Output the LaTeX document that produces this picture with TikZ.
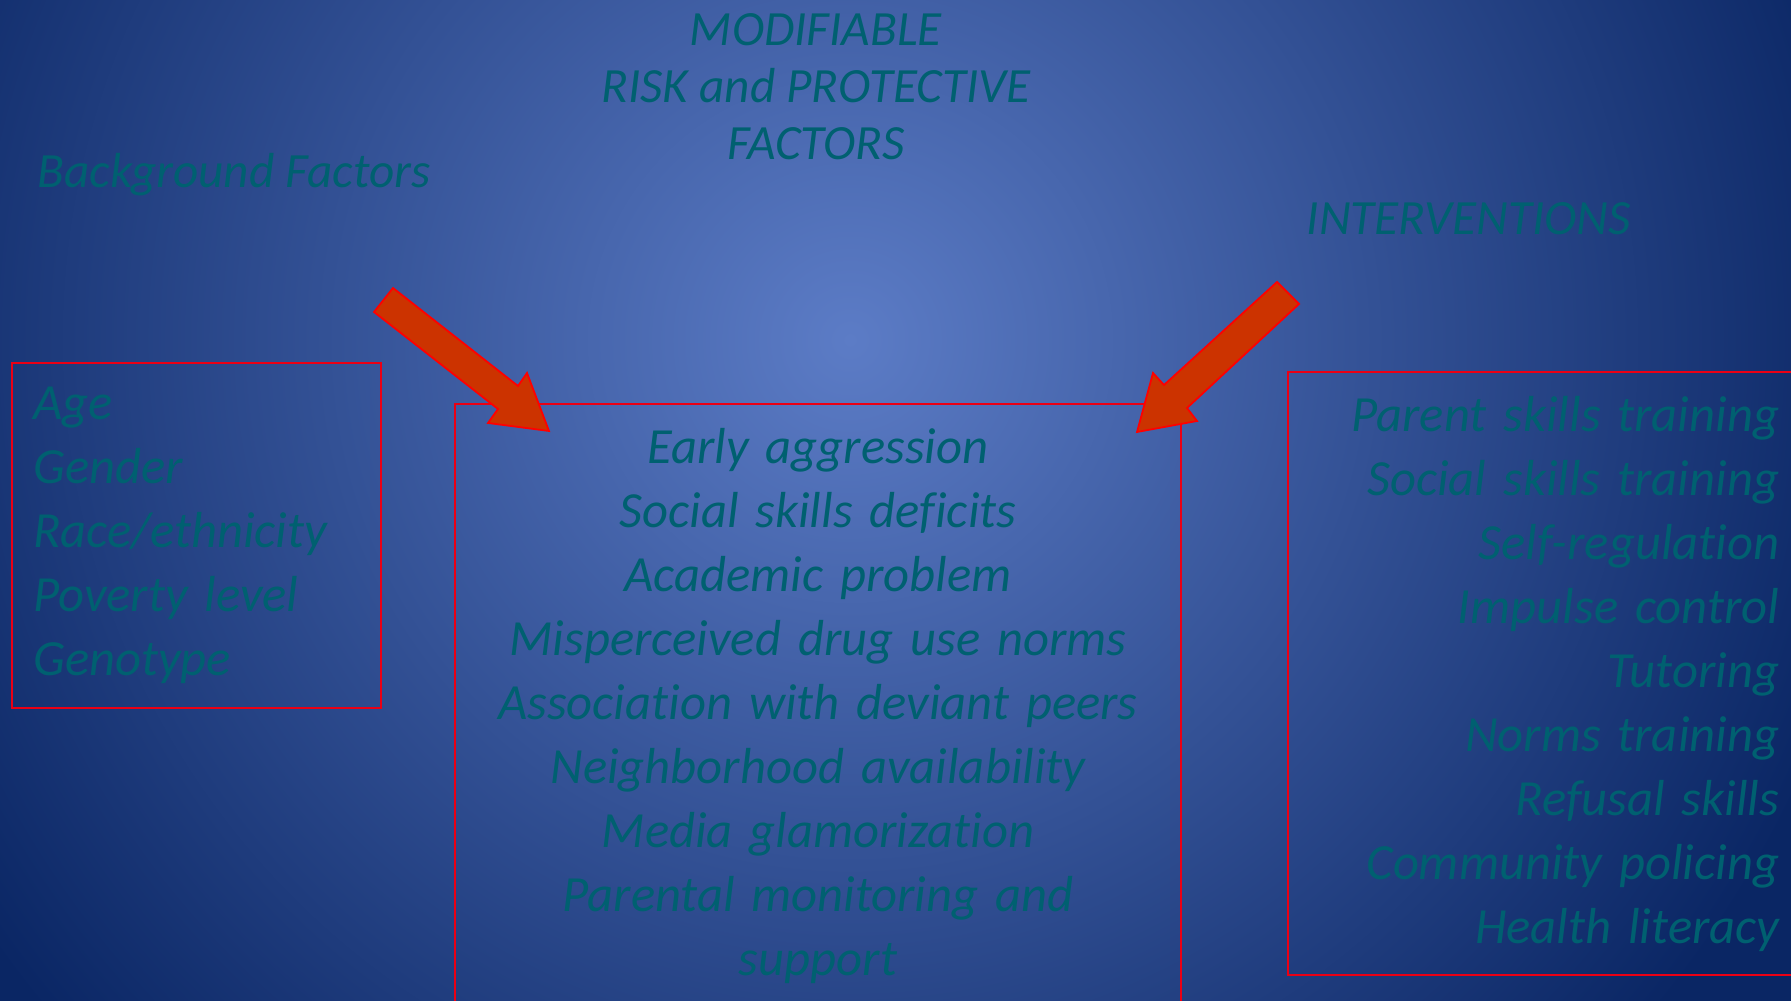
\documentclass[tikz,border=0pt]{standalone}
\usepackage{fontspec}
\setmainfont{Carlito}[Ligatures=NoCommon]
\definecolor{bgin}{RGB}{92,124,198}
\definecolor{bgout}{RGB}{10,38,100}
\definecolor{factext}{RGB}{0,96,112}
\definecolor{arrowfill}{RGB}{204,51,0}
\definecolor{boxred}{RGB}{235,0,20}

\begin{document}
\begin{tikzpicture}[x=0.01cm, y=-0.01cm,
	every node/.style={text=factext},
	listtext/.style={font=\fontsize{14.4}{18.2}\selectfont\itshape},
	headtext/.style={font=\fontsize{14}{16.2}\selectfont\itshape, inner sep=0pt},
	box/.style={draw=boxred, line width=0.6pt, inner xsep=0.21cm, inner ysep=0.24cm},
	bigarrow/.style={fill=arrowfill, draw=red, line width=0.5pt, line join=miter}]
	\useasboundingbox (0,0) rectangle (1791,1001);
	\clip (0,0) rectangle (1791,1001);
	\fill[bgout] (0,0) rectangle (1791,1001);
	\shade[inner color=bgin, outer color=bgout] (850,340) circle (1050);

	% headings
	\node (modifiable) [headtext, align=center] at (816,87) {MODIFIABLE\\ RISK and PROTECTIVE\\ FACTORS};
	\node (backhead) [headtext, anchor=west] at (37,175) {Background Factors};
	\node (interhead) [headtext, anchor=west] at (1306,219) {INTERVENTIONS};

	% boxes
	\node (background) [box, listtext, anchor=north west, text width=3.27cm, minimum height=3.41cm, align=left] at (11,362)
		{Age\\ Gender\\ Race/ethnicity\\ Poverty level\\ Genotype};
	\node (riskbox) [box, listtext, anchor=north, inner xsep=0.2cm, text width=6.86cm, align=center] at (818,403)
		{Early aggression\\ Social skills deficits\\ Academic problem\\ Misperceived drug use norms\\ Association with deviant peers\\ Neighborhood availability\\ Media glamorization\\ Parental monitoring and\\ support};
	\node (interbox) [box, listtext, anchor=north west, inner xsep=0.29cm, text width=4.62cm, minimum height=6.01cm, align=right] at (1287,371)
		{Parent skills training\\ Social skills training\\ Self-regulation\\ Impulse control\\ Tutoring\\ Norms training\\ Refusal skills\\ Community policing\\ Health literacy};

	% arrows
	\filldraw[bigarrow] (393,288) -- (518,386) -- (527,373) -- (549,431) -- (488,423) -- (498,409) -- (374,312) -- cycle;
	\filldraw[bigarrow] (1277,282) -- (1164,385) -- (1153,373) -- (1137,432) -- (1197,421) -- (1187,408) -- (1299,304) -- cycle;
\end{tikzpicture}
\end{document}
